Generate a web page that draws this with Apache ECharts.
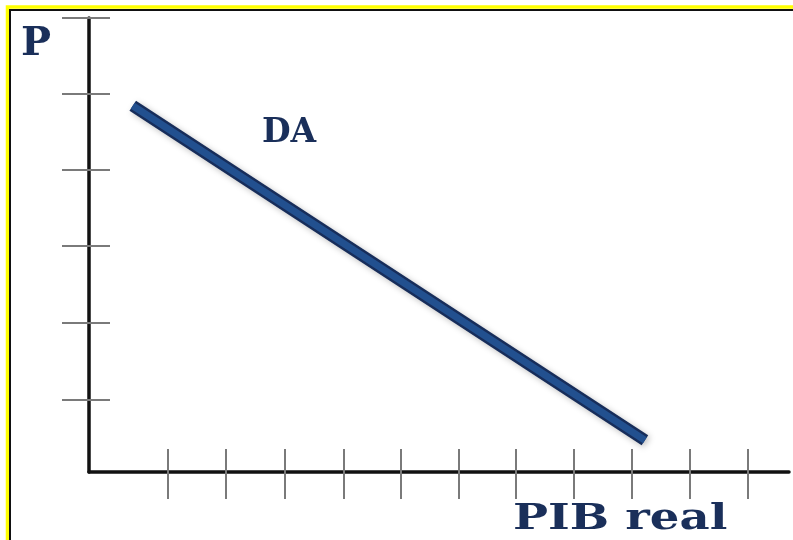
<!DOCTYPE html>
<html>
<head>
<meta charset="utf-8">
<script src="https://cdn.jsdelivr.net/npm/echarts@6/dist/echarts.min.js"></script>
<style>
html,body{margin:0;padding:0;background:#fff;}
#c{width:793px;height:540px;}
</style>
</head>
<body>
<div id="c"></div>
<script>
// Data
const daX = [0.75, 9.53];
const daY = [4.84, 0.42];
const xTicks = [1.35, 2.35, 3.36, 4.36, 5.35, 6.34, 7.32, 8.31, 9.31, 10.30, 11.30];
const yTicks = [0.95, 1.97, 2.99, 3.99, 5.0, 6];
const xName = 'PIB real';
const yName = 'P';
const seriesName = 'DA';

const daData = daX.map((x, i) => [x, daY[i]]);
const tickStyle = { color: '#7a7a7a', width: 2 };
const axisLineStyle = { color: '#111', width: 3.5 };

const chart = echarts.init(document.getElementById('c'), null, { renderer: 'canvas' });
chart.setOption({
  animation: false,
  backgroundColor: '#fff',
  grid: { left: 89, top: 18, width: 700, height: 454, containLabel: false },
  xAxis: [
    { type: 'value', min: 0, max: 12, position: 'bottom',
      axisLine: { show: true, lineStyle: axisLineStyle },
      axisTick: { show: true, customValues: xTicks, length: 27, lineStyle: tickStyle },
      axisLabel: { show: false }, splitLine: { show: false } },
    { type: 'value', min: 0, max: 12, position: 'bottom', gridIndex: 0,
      axisLine: { show: false },
      axisTick: { show: true, inside: true, customValues: xTicks, length: 23, lineStyle: tickStyle },
      axisLabel: { show: false }, splitLine: { show: false } }
  ],
  yAxis: [
    { type: 'value', min: 0, max: 6, position: 'left',
      axisLine: { show: true, lineStyle: axisLineStyle },
      axisTick: { show: true, customValues: yTicks, length: 27, lineStyle: tickStyle },
      axisLabel: { show: false }, splitLine: { show: false } },
    { type: 'value', min: 0, max: 6, position: 'left', gridIndex: 0,
      axisLine: { show: false },
      axisTick: { show: true, inside: true, customValues: yTicks, length: 21, lineStyle: tickStyle },
      axisLabel: { show: false }, splitLine: { show: false } }
  ],
  series: [
    { name: seriesName, type: 'line', data: daData, symbol: 'none', z: 3,
      lineStyle: { color: '#172d5a', width: 12, cap: 'butt',
        shadowColor: 'rgba(0,0,0,0.25)', shadowBlur: 6, shadowOffsetX: 2, shadowOffsetY: 2 } },
    { name: seriesName, type: 'line', data: daData, symbol: 'none', z: 4,
      lineStyle: { color: '#22508f', width: 7, cap: 'butt' } }
  ],
  graphic: [
    { type: 'rect', silent: true, z: 10,
      shape: { x: 7.5, y: 7, width: 900, height: 700 },
      style: { fill: null, stroke: '#ffff00', lineWidth: 3.5 } },
    { type: 'rect', silent: true, z: 10,
      shape: { x: 10, y: 10, width: 900, height: 700 },
      style: { fill: null, stroke: '#111', lineWidth: 2 } },
    { type: 'text', left: 21, top: 25, z: 10,
      style: { text: yName, fill: '#1a2f5a', font: 'bold 40px "DejaVu Serif"' } },
    { type: 'text', left: 262, top: 117, z: 10,
      style: { text: seriesName, fill: '#1a2f5a', font: 'bold 33px "DejaVu Serif"' } },
    { type: 'text', x: 513, y: 502, scaleX: 1.33, z: 10,
      style: { text: xName, fill: '#1a2f5a', font: 'bold 35px "DejaVu Serif"' } }
  ]
});
</script>
</body>
</html>
